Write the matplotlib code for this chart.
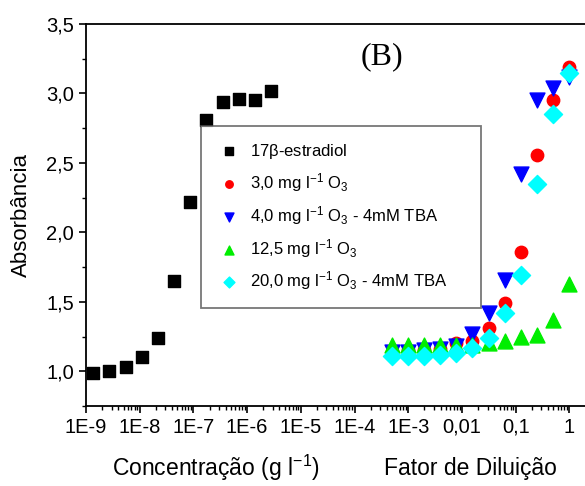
import numpy as np
import matplotlib
matplotlib.use("Agg")
from matplotlib import pyplot as plt
from matplotlib.ticker import LogLocator, FixedLocator, MultipleLocator, NullFormatter

plt.rcParams['font.family'] = ['Liberation Sans', 'DejaVu Sans']
plt.rcParams['mathtext.default'] = 'regular'

# estradiol concentration (g/l)
conc = [1.36e-9, 2.72e-9, 5.45e-9, 1.09e-8, 2.18e-8, 4.36e-8,
        8.72e-8, 1.74e-7, 3.49e-7, 6.98e-7, 1.40e-6, 2.79e-6]
estradiol = [0.99, 1.00, 1.03, 1.10, 1.24, 1.65, 2.22, 2.81, 2.935, 2.96, 2.95, 3.02]

# dilution factor
dil = [1/2048, 1/1024, 1/512, 1/256, 1/128, 1/64, 1/32, 1/16, 1/8, 1/4, 1/2, 1]
o3_3 = [1.14, 1.15, 1.15, 1.16, 1.20, 1.22, 1.31, 1.49, 1.86, 2.56, 2.95, 3.19]
o3_4_tba = [1.14, 1.14, 1.15, 1.16, 1.18, 1.27, 1.42, 1.66, 2.42, 2.95, 3.04, 3.12]
o3_12 = [1.19, 1.19, 1.19, 1.19, 1.19, 1.19, 1.20, 1.22, 1.245, 1.26, 1.37, 1.63]
o3_20_tba = [1.11, 1.11, 1.11, 1.12, 1.13, 1.165, 1.24, 1.42, 1.69, 2.35, 2.85, 3.15]

xticks = [1e-9, 1e-8, 1e-7, 1e-6, 1e-5, 1e-4, 1e-3, 1e-2, 1e-1, 1]
xticklabels = ["1E-9", "1E-8", "1E-7", "1E-6", "1E-5", "1E-4", "1E-3", "0,01", "0,1", "1"]

fig = plt.figure(figsize=(5.85, 4.86), dpi=100)
ax = fig.add_axes([86/585, 80/486, 1 - 86/585, (406-24)/486])

ax.scatter(conc, estradiol, marker='s', s=75, color='black', label=r'17$\beta$-estradiol', zorder=3)
ax.scatter(dil, o3_3, marker='o', s=80, color='red', label=r'3,0 mg l$^{-1}$ O$_3$', zorder=3)
ax.scatter(dil, o3_4_tba, marker='v', s=115, color='blue', label=r'4,0 mg l$^{-1}$ O$_3$ - 4mM TBA', zorder=4)
ax.scatter(dil, o3_12, marker='^', s=115, color='#00ee00', label=r'12,5 mg l$^{-1}$ O$_3$', zorder=5)
ax.scatter(dil, o3_20_tba, marker='D', s=85, color='cyan', label=r'20,0 mg l$^{-1}$ O$_3$ - 4mM TBA', zorder=6)

ax.set_xscale('log')
ax.set_xlim(1e-9, 10**0.29)
ax.set_ylim(0.75, 3.5)
ax.xaxis.set_major_locator(FixedLocator(xticks))
ax.set_xticklabels(xticklabels)
ax.xaxis.set_minor_locator(LogLocator(base=10, subs=np.arange(2, 10), numticks=30))
ax.xaxis.set_minor_formatter(NullFormatter())
ax.yaxis.set_minor_locator(MultipleLocator(0.25))
ax.set_yticks([1.0, 1.5, 2.0, 2.5, 3.0, 3.5])
ax.set_yticklabels(["1,0", "1,5", "2,0", "2,5", "3,0", "3,5"])

ax.tick_params(which='major', direction='out', length=5, width=1.2, labelsize=14.5)
ax.tick_params(which='minor', direction='out', length=3, width=1)
for s in ['left', 'bottom', 'top']:
    ax.spines[s].set_linewidth(1.3)
ax.spines['right'].set_visible(False)

ax.set_ylabel("Absorbância", fontsize=16)
ax.yaxis.set_label_coords(-0.108, 0.5)
fig.text(216/585, 1 - 468/486, r"Concentração (g l$^{-1}$)", fontsize=16.5, ha='center', va='center')
fig.text(470/585, 1 - 468/486, "Fator de Diluição", fontsize=16.5, ha='center', va='center')
fig.text(382/585, 1 - 57/486, "(B)", fontsize=23, family='Liberation Serif', ha='center', va='center')

leg = ax.legend(loc='upper left', bbox_to_anchor=(201/585, 1 - 307/486, 280/585, 181/486),
                bbox_transform=fig.transFigure, mode='expand',
                borderaxespad=0, fontsize=12, fancybox=False, edgecolor='#555555',
                markerscale=0.6, handletextpad=0.5, labelspacing=0.6, borderpad=0.95, handlelength=1.5)
leg.get_frame().set_linewidth(1.3)

fig.savefig("out.png", dpi=100)
